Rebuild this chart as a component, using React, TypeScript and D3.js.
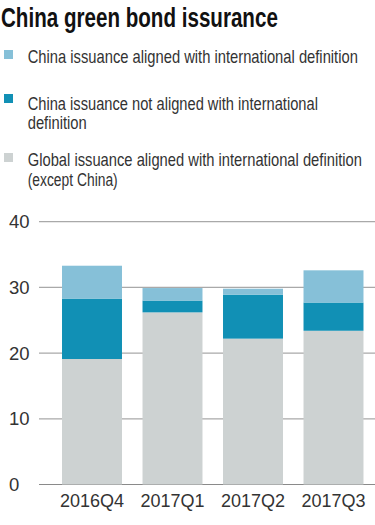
import React, { useLayoutEffect, useRef } from "react";
import * as d3 from "d3";

const categories = ["2016Q4", "2017Q1", "2017Q2", "2017Q3"];
const globalAligned = [19.1, 26.2, 22.2, 23.4];
const chinaNotAligned = [9.2, 1.8, 6.7, 4.3];
const chinaAligned = [5.0, 1.9, 0.9, 4.9];
const yTicks = [0, 10, 20, 30, 40];
const seriesKeys = ["global", "notAligned", "aligned"];
const seriesColors = ["#cdd2d2", "#1190b5", "#86c0d8"];

const W = 375;
const H = 525;
const regular = "'Liberation Sans', Arial, sans-serif";

function FitText(props: {
  x: number;
  y: number;
  w: number;
  size: number;
  weight?: string;
  fill: string;
  children: string;
}) {
  const ref = useRef<SVGTextElement>(null);
  const gref = useRef<SVGGElement>(null);
  useLayoutEffect(() => {
    if (!ref.current || !gref.current) return;
    const len = ref.current.getComputedTextLength();
    const s = len > 0 ? props.w / len : 1;
    gref.current.setAttribute(
      "transform",
      `translate(${props.x},${props.y}) scale(${s},1)`
    );
  });
  return (
    <g ref={gref} transform={`translate(${props.x},${props.y})`}>
      <text
        ref={ref}
        x={0}
        y={0}
        fontFamily={regular}
        fontWeight={props.weight || "normal"}
        fontSize={props.size}
        fill={props.fill}
      >
        {props.children}
      </text>
    </g>
  );
}

export default function App() {
  const rows = categories.map((c, i) => ({
    cat: c,
    global: globalAligned[i],
    notAligned: chinaNotAligned[i],
    aligned: chinaAligned[i],
  }));
  const stack = d3.stack<any>().keys(seriesKeys)(rows);
  const y = d3.scaleLinear().domain([0, 40]).range([484.5, 221.7]);
  const x = d3
    .scaleBand<string>()
    .domain(categories)
    .range([51.75, 373.75])
    .paddingInner(0.255)
    .paddingOuter(0.1275);

  const legend = [
    { color: seriesColors[2], sq: 50, lines: [{ t: "China issuance aligned with international definition", y: 63.3, w: 330 }] },
    {
      color: seriesColors[1],
      sq: 94,
      lines: [
        { t: "China issuance not aligned with international", y: 110, w: 290 },
        { t: "definition", y: 129, w: 59 },
      ],
    },
    {
      color: seriesColors[0],
      sq: 153,
      lines: [
        { t: "Global issuance aligned with international definition", y: 166, w: 334 },
        { t: "(except China)", y: 185.5, w: 90 },
      ],
    },
  ];

  return (
    <svg
      width={W}
      height={H}
      style={{ position: "absolute", left: 0, top: 0, background: "#fff" }}
    >
      <FitText x={1} y={26.8} w={277} size={27} weight="bold" fill="#111">
        China green bond issurance
      </FitText>
      {legend.map((l, i) => (
        <g key={i}>
          <rect x={4} y={l.sq} width={9} height={9} fill={l.color} />
          {l.lines.map((ln, j) => (
            <FitText key={j} x={27.7} y={ln.y} w={ln.w} size={18.3} fill="#333">
              {ln.t}
            </FitText>
          ))}
        </g>
      ))}
      {yTicks.map((t) => (
        <g key={t}>
          <line
            x1={39}
            x2={375}
            y1={y(t)}
            y2={y(t)}
            stroke={t === 0 ? "#8a8a8a" : "#a9a9a9"}
            strokeWidth={1.2}
          />
          <text
            x={9}
            y={y(t)}
            dy="0.36em"
            fontFamily={regular}
            fontSize={18.5}
            fill="#333"
          >
            {t}
          </text>
        </g>
      ))}
      {stack.map((s, si) => (
        <g key={s.key} fill={seriesColors[si]}>
          {s.map((d: any, i: number) => (
            <rect
              key={i}
              x={x(categories[i])}
              width={x.bandwidth()}
              y={y(d[1])}
              height={y(d[0]) - y(d[1])}
            />
          ))}
        </g>
      ))}
      {categories.map((c) => (
        <text
          key={c}
          x={(x(c) as number) + x.bandwidth() / 2}
          y={507}
          textAnchor="middle"
          fontFamily={regular}
          fontSize={18}
          fill="#333"
        >
          {c}
        </text>
      ))}
    </svg>
  );
}
